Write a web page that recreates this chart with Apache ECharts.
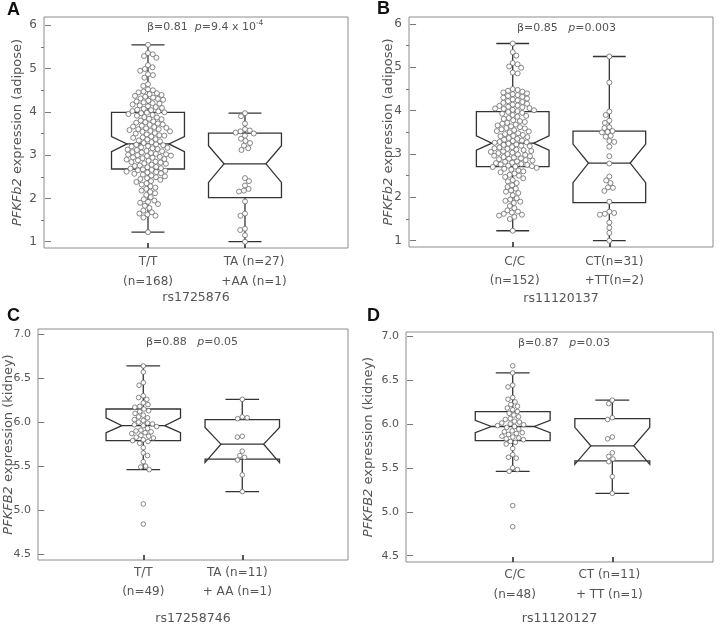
<!DOCTYPE html>
<html><head><meta charset="utf-8">
<script src="https://cdn.jsdelivr.net/npm/echarts@6/dist/echarts.min.js"></script>
<style>html,body{margin:0;padding:0;background:#fff}#c{width:720px;height:626px}</style>
</head><body><div id="c"></div>
<script>
// ---------------- DATA ----------------
const catsA = ['T/T\n(n=168)', 'TA (n=27)\n+AA (n=1)'];
const catsB = ['C/C\n(n=152)', 'CT(n=31)\n+TT(n=2)'];
const catsC = ['T/T\n(n=49)', 'TA (n=11)\n+ AA (n=1)'];
const catsD = ['C/C\n(n=48)', 'CT (n=11)\n+ TT (n=1)'];
const snpNames = ['rs1725876', 'rs11120137', 'rs17258746', 'rs11120127'];
const yTicksAdipose = [1, 2, 3, 4, 5, 6];
const yMinorAdipose = [1.5, 2.5, 3.5, 4.5, 5.5];
const yTicksKidney = [4.5, 5.0, 5.5, 6.0, 6.5, 7.0];
// box stats: [whiskerLow, Q1, notchLow, median, notchHigh, Q3, whiskerHigh]
const boxA1 = [1.22, 2.68, 3.08, 3.26, 3.43, 3.99, 5.55];
const boxA2 = [1.00, 2.02, 2.37, 2.80, 3.22, 3.51, 3.97];
const boxB1 = [1.23, 2.71, 3.09, 3.25, 3.42, 3.98, 5.55];
const boxB2 = [1.00, 1.88, 2.34, 2.79, 3.23, 3.53, 5.25];
const boxC1 = [5.46, 5.79, 5.88, 5.96, 6.05, 6.15, 6.64];
const boxC2 = [5.21, 5.58, 5.54, 5.75, 5.94, 6.03, 6.26];
const boxD1 = [5.46, 5.81, 5.90, 5.97, 6.04, 6.14, 6.58];
const boxD2 = [5.21, 5.58, 5.54, 5.75, 5.96, 6.06, 6.27];
// individual values
const ptsA1 = [5.55,5.36,5.33,5.29,5.25,5.08,5.03,4.99,4.95,4.87,4.85,4.79,4.64,4.6,
4.52,4.5,4.47,4.45,4.43,4.41,4.39,4.37,4.35,4.33,4.31,4.3,4.28,4.26,4.24,4.22,4.2,4.19,4.17,4.15,4.13,4.11,4.09,4.07,4.05,4.04,4.02,4.01,
3.99,3.98,3.97,3.95,3.93,3.91,3.88,3.87,3.84,3.83,3.8,3.78,3.76,3.75,3.73,3.71,3.7,3.68,3.66,3.65,3.63,3.62,3.6,3.6,3.58,3.56,3.55,3.54,3.51,3.5,3.48,3.46,3.45,3.43,3.41,3.4,3.37,3.36,3.34,3.32,3.3,3.28,
3.25,3.24,3.23,3.21,3.2,3.18,3.17,3.16,3.14,3.13,3.12,3.1,3.09,3.07,3.06,3.05,3.03,3.02,3.01,3.0,2.99,2.98,2.96,2.95,2.94,2.93,2.91,2.9,2.88,2.87,2.85,2.84,2.83,2.81,2.8,2.78,2.76,2.75,2.73,2.72,2.7,2.69,
2.67,2.66,2.65,2.64,2.62,2.61,2.6,2.58,2.57,2.55,2.53,2.51,2.49,2.47,2.45,2.43,2.4,2.38,2.35,2.32,2.28,2.25,2.22,2.18,2.15,2.12,2.08,2.03,1.98,1.95,1.92,1.9,1.87,1.83,1.78,1.72,1.68,1.65,1.63,1.6,1.56,1.22];
const ptsA2 = [3.97,3.9,3.73,3.6,3.57,3.55,3.52,3.5,3.45,3.38,3.33,3.28,3.22,3.16,3.12,2.47,2.4,2.3,2.22,2.18,2.16,1.93,1.65,1.6,1.3,1.27,1.15,1.0];
const ptsB1 = [5.55,5.35,5.27,5.1,5.07,5.02,4.99,4.88,4.86,
4.5,4.48,4.46,4.44,4.42,4.4,4.38,4.36,4.34,4.32,4.3,4.28,4.26,4.24,4.22,4.2,4.18,4.16,4.14,4.12,4.11,4.09,4.08,4.06,4.05,4.04,4.02,4.01,3.99,
3.97,3.95,3.93,3.9,3.88,3.86,3.83,3.81,3.78,3.76,3.74,3.72,3.7,3.68,3.66,3.64,3.62,3.6,3.59,3.57,3.55,3.53,3.52,3.5,3.48,3.46,3.44,3.42,3.41,3.39,3.37,3.35,3.33,3.31,3.3,3.28,3.27,3.26,
3.24,3.22,3.21,3.19,3.18,3.16,3.15,3.13,3.12,3.1,3.09,3.07,3.06,3.05,3.03,3.02,3.0,2.99,2.98,2.96,2.95,2.93,2.92,2.9,2.89,2.88,2.86,2.85,2.83,2.82,2.8,2.79,2.77,2.76,2.75,2.73,2.72,2.71,
2.7,2.68,2.66,2.64,2.62,2.6,2.58,2.55,2.52,2.5,2.47,2.44,2.4,2.37,2.33,2.28,2.24,2.2,2.16,2.13,2.1,2.05,1.98,1.95,1.92,1.9,1.87,1.8,1.75,1.7,1.67,1.65,1.62,1.6,1.58,1.55,1.5,1.23];
const ptsB2 = [5.25,4.65,3.98,3.9,3.77,3.72,3.62,3.6,3.53,3.51,3.5,3.42,3.4,3.3,3.28,3.17,2.95,2.78,2.48,2.39,2.33,2.23,2.22,2.15,1.9,1.67,1.64,1.62,1.6,1.42,1.3,1.18,1.0];
const ptsC1 = [6.64,6.57,6.45,6.42,6.3,6.28,6.26,6.22,6.2,6.18,6.17,6.15,6.13,6.12,6.1,6.08,6.06,6.05,6.03,6.02,6.0,5.99,5.98,5.97,5.96,5.95,5.93,5.91,5.9,5.89,5.88,5.87,5.85,5.84,5.83,5.82,5.8,5.79,5.78,5.76,5.71,5.65,5.62,5.55,5.5,5.49,5.46,5.07,4.84];
const ptsC2 = [6.26,6.06,6.05,6.04,5.84,5.83,5.67,5.62,5.6,5.57,5.4,5.21];
const ptsD1 = [6.66,6.58,6.44,6.42,6.3,6.28,6.25,6.22,6.2,6.18,6.16,6.14,6.12,6.1,6.08,6.06,6.05,6.03,6.02,6.01,6.0,5.99,5.98,5.97,5.96,5.94,5.92,5.91,5.9,5.89,5.88,5.86,5.85,5.84,5.83,5.82,5.8,5.79,5.77,5.72,5.65,5.62,5.61,5.5,5.48,5.46,5.07,4.83];
const ptsD2 = [6.27,6.23,6.07,6.05,5.85,5.83,5.67,5.63,5.6,5.57,5.4,5.21];
const annotations = [
  ['β=0.81  ', 'p', '=9.4 x 10', '-4'],
  ['β=0.85   ', 'p', '=0.003', ''],
  ['β=0.88   ', 'p', '=0.05', ''],
  ['β=0.87   ', 'p', '=0.03', '']
];

// ---------------- LAYOUT / STYLE ----------------
const FONT = 'DejaVu Sans';
const TXT = '#555';
const panels = [
  {letter:'A', cats:catsA, boxes:[boxA1, boxA2], pts:[ptsA1, ptsA2], grid:{left:44, top:17, width:304, height:231}, x:[-0.072, 3.062], y:[0.855, 6.192], ticks:yTicksAdipose, minor:yMinorAdipose, tissue:'PFKFb2', organ:'adipose', tickFs:12, labMargin:4, labLH:20, labShift:[0, 9], nameGap:43, yNameGap:20, ann:[147,27], let:[7,10], sym:5, D:5.0},
  {letter:'B', cats:catsB, boxes:[boxB1, boxB2], pts:[ptsB1, ptsB2], grid:{left:409, top:17, width:304, height:230}, x:[-0.0735, 3.073], y:[0.8546, 6.1615], ticks:yTicksAdipose, minor:yMinorAdipose, tissue:'PFKFb2', organ:'adipose', tickFs:12, labMargin:5, labLH:19, labShift:[2, 5], nameGap:45, yNameGap:14, ann:[517,28], let:[377,9], sym:5, D:5.0},
  {letter:'C', cats:catsC, boxes:[boxC1, boxC2], pts:[ptsC1, ptsC2], grid:{left:38, top:329, width:310, height:232}, x:[-0.0636, 3.068], y:[4.432, 7.060], ticks:yTicksKidney, minor:null, tissue:'PFKFB2', organ:'kidney', tickFs:11, labMargin:3, labLH:19, labShift:[0, -5], nameGap:52, yNameGap:23, ann:[146,342], let:[7,316], sym:4.6, D:5.0},
  {letter:'D', cats:catsD, boxes:[boxD1, boxD2], pts:[ptsD1, ptsD2], grid:{left:406, top:332, width:307, height:231}, x:[-0.0713, 3.011], y:[4.4286, 7.045], ticks:yTicksKidney, minor:null, tissue:'PFKFB2', organ:'kidney', tickFs:11, labMargin:3, labLH:20, labShift:[2, -3], nameGap:50, yNameGap:31, ann:[518,343], let:[367,316], sym:4.6, D:5.0}
];
const BOX_HALF = 0.376, NOTCH_INSET = 0.16, CAP_HALF = 0.17;
const LINE = '#333';

const chart = echarts.init(document.getElementById('c'), null, {renderer:'canvas'});
const grids = [], xAxes = [], yAxes = [], series = [], graphics = [];

panels.forEach((p, i) => {
  grids.push(Object.assign({show:true, borderColor:'#8c8c8c', borderWidth:1, backgroundColor:'transparent'}, p.grid));
  const rich = {};
  p.labShift.forEach((s,k)=>{
    rich['c'+k] = {color:TXT, fontFamily:FONT, fontSize:12, lineHeight:p.labLH, padding: s >= 0 ? [0,0,0,2*s] : [0,-2*s,0,0]};
  });
  xAxes.push({
    gridIndex:i, type:'value', min:p.x[0], max:p.x[1],
    axisLine:{show:false}, splitLine:{show:false},
    axisTick:{show:true, inside:true, length:5, customValues:[1,2], lineStyle:{color:'#222', width:1.5}},
    axisLabel:{customValues:[1,2], formatter:(v)=>{const k = Math.round(v)-1; return p.cats[k].split('\n').map(t=>'{c'+k+'|'+t+'}').join('\n');},
      color:TXT, fontFamily:FONT, fontSize:12, lineHeight:p.labLH, margin:p.labMargin, rich:rich},
    name:snpNames[i], nameLocation:'middle', nameGap:p.nameGap, nameMoveOverlap:false,
    nameTextStyle:{color:TXT, fontFamily:FONT, fontSize:12.5}
  });
  yAxes.push({
    gridIndex:i, type:'value', min:p.y[0], max:p.y[1],
    axisLine:{show:false}, splitLine:{show:false},
    axisTick:{show:true, length:6, customValues:p.ticks, lineStyle:{color:'#777'}},
    axisLabel:{customValues:p.ticks, formatter:(v)=> p.minor ? String(Math.round(v)) : v.toFixed(1), color:TXT, fontFamily:FONT, fontSize:p.tickFs, margin:7},
    name:'{i|' + p.tissue + '} expression (' + p.organ + ')', nameLocation:'middle', nameGap:p.yNameGap, nameMoveOverlap:false,
    nameTextStyle:{color:TXT, fontFamily:FONT, fontSize:13, rich:{i:{fontStyle:'italic', color:TXT, fontFamily:FONT, fontSize:13}}}
  });
  series.push({
    type:'custom', xAxisIndex:i, yAxisIndex:i, z:2, silent:true,
    data:p.boxes.map((b,k)=>[k+1].concat(b)),
    encode:{x:0, y:[1,2,3,4,5,6,7]},
    renderItem:(params, api) => {
      const c = api.value(0);
      const [wl,q1,nl,md,nh,q3,wh] = [1,2,3,4,5,6,7].map(d=>api.value(d));
      const P = (x,y)=>api.coord([x,y]);
      const L = c - BOX_HALF, R = c + BOX_HALF;
      const poly = [P(L,q1),P(L,nl),P(L+NOTCH_INSET,md),P(L,nh),P(L,q3),P(R,q3),P(R,nh),P(R-NOTCH_INSET,md),P(R,nl),P(R,q1)];
      const ls = {stroke:LINE, lineWidth:1.3, fill:null};
      const line = (a,b)=>({type:'line', shape:{x1:a[0],y1:a[1],x2:b[0],y2:b[1]}, style:ls});
      return {type:'group', children:[
        {type:'polygon', shape:{points:poly}, style:{stroke:LINE, lineWidth:1.3, fill:'none'}},
        line(P(L+NOTCH_INSET,md), P(R-NOTCH_INSET,md)),
        line(P(c,q3), P(c,wh)), line(P(c,q1), P(c,wl)),
        line(P(c-CAP_HALF,wh), P(c+CAP_HALF,wh)), line(P(c-CAP_HALF,wl), P(c+CAP_HALF,wl))
      ]};
    }
  });
  p.pts.forEach((arr,k)=>{
    series.push({
      id:'pts'+i+'_'+k, type:'scatter', xAxisIndex:i, yAxisIndex:i, z:3, silent:true,
      symbol:'circle', symbolSize:p.sym,
      itemStyle:{color:'#fff', borderColor:'#6a6a6a', borderWidth:0.8, opacity:1},
      data:arr.map(v=>[k+1, v])
    });
  });
  graphics.push({type:'text', x:p.let[0], y:p.let[1], style:{text:p.letter, fontFamily:'Liberation Sans', fontWeight:'bold', fontSize:18, fill:'#111', verticalAlign:'middle'}});
  const a = annotations[i];
  graphics.push({type:'text', x:p.ann[0], y:p.ann[1], style:{
    text:'{t|'+a[0]+'}{i|'+a[1]+'}{t|'+a[2]+'}' + (a[3] ? '{s|'+a[3]+'}' : ''),
    verticalAlign:'middle', fontFamily:FONT, fontSize:11, fill:TXT,
    rich:{t:{fontFamily:FONT, fontSize:11, fill:TXT, lineHeight:15}, i:{fontFamily:FONT, fontSize:11, fontStyle:'italic', fill:TXT, lineHeight:15}, s:{fontFamily:FONT, fontSize:7.5, fill:TXT, verticalAlign:'top', lineHeight:15}}
  }});
});
panels.forEach((p,i)=>{
  if (p.minor) {
    yAxes.push({gridIndex:i, type:'value', min:p.y[0], max:p.y[1], position:'left',
      axisLine:{show:false}, splitLine:{show:false}, axisLabel:{show:false},
      axisTick:{show:true, length:3, customValues:p.minor, lineStyle:{color:'#777'}}});
  }
});

chart.setOption({animation:false, backgroundColor:'#fff', grid:grids, xAxis:xAxes, yAxis:yAxes, series:series, graphic:graphics});

// beeswarm layout in pixel space
function swarm(ys, D) {
  const idx = ys.map((y,i)=>i).sort((a,b)=>ys[a]-ys[b]);
  const xs = new Array(ys.length).fill(0);
  const placed = [];
  idx.forEach((i,n)=>{
    const y = ys[i], ivs = [];
    placed.forEach(j=>{ const dy = Math.abs(ys[j]-y); if (dy < D) { const w = Math.sqrt(D*D-dy*dy); ivs.push([xs[j]-w, xs[j]+w]); } });
    const cands = [0]; ivs.forEach(iv=>cands.push(iv[0], iv[1]));
    const ok = cands.filter(x=>ivs.every(iv=> x <= iv[0]+1e-6 || x >= iv[1]-1e-6));
    ok.sort((u,v)=>(Math.abs(u)-Math.abs(v)) || (n%2 ? u-v : v-u));
    xs[i] = ok[0];
    placed.push(i);
  });
  return xs;
}
const upd = [];
panels.forEach((p,i)=>{
  p.pts.forEach((arr,k)=>{
    const c = k+1;
    const pys = arr.map(v=>chart.convertToPixel({gridIndex:i}, [c, v])[1]);
    const pxPerX = chart.convertToPixel({gridIndex:i}, [2, arr[0]])[0] - chart.convertToPixel({gridIndex:i}, [1, arr[0]])[0];
    const offs = swarm(pys, p.D);
    upd.push({id:'pts'+i+'_'+k, data:arr.map((v,j)=>[c + offs[j]/pxPerX, v])});
  });
});
chart.setOption({series:upd});
</script>
</body></html>
